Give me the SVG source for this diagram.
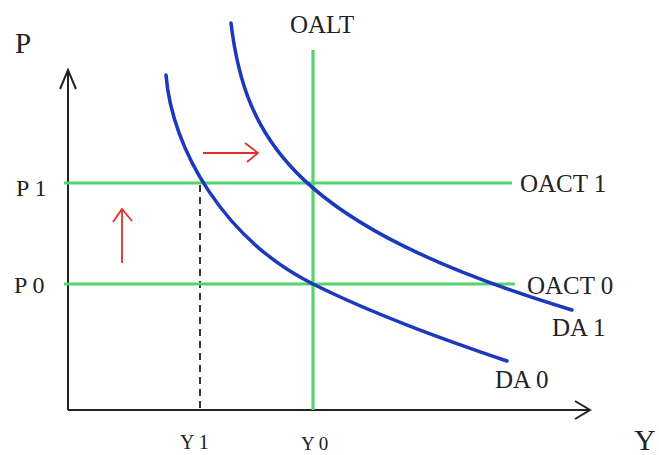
<svg xmlns="http://www.w3.org/2000/svg" width="659" height="455" viewBox="0 0 659 455">
<style>
text{font-family:"Liberation Serif","Times New Roman",serif;fill:#222}
.ax{stroke:#222;stroke-width:2;fill:none}
.g{stroke:#55d46e;stroke-width:3.2;fill:none}
.b{stroke:#1c38bd;stroke-width:3.5;fill:none;stroke-linecap:round}
.r{stroke:#e5302a;stroke-width:1.8;fill:none}
</style>
<rect width="659" height="455" fill="#fff"/>
<g id="axes">
<path class="ax" d="M68 410 V70 M60 89 L68 70 L76 89"/>
<path class="ax" d="M68 410 H590 M575 401 L590 410 L575 419"/>
<path d="M200 185 V410" stroke="#222" stroke-width="1.8" stroke-dasharray="7 5"/>
</g>
<g id="oact1"><line class="g" x1="64" y1="183" x2="512" y2="183"/><text x="520" y="192" font-size="25">OACT 1</text></g>
<g id="oact0"><line class="g" x1="64" y1="284" x2="515" y2="284"/><text x="527" y="294" font-size="25">OACT 0</text></g>
<g id="oalt"><line class="g" x1="313" y1="50" x2="313" y2="410"/><text x="290" y="33" font-size="25">OALT</text></g>
<g id="da0"><path class="b" d="M166 75 C172 150 225 240 313 284 C380 317.5 460 345 507 361"/><text x="495" y="388" font-size="25">DA 0</text></g>
<g id="da1"><path class="b" d="M231 23 C245 140 295 226 572 310"/><text x="552" y="336" font-size="25">DA 1</text></g>
<g id="labels">
<text x="15" y="53" font-size="29">P</text>
<text x="16" y="196" font-size="24">P 1</text>
<text x="14" y="293" font-size="24">P 0</text>
<text x="180" y="449" font-size="20">Y 1</text>
<text x="301" y="450" font-size="19">Y 0</text>
<text x="634" y="450" font-size="30">Y</text>
</g>
<g id="connectors">
<path class="r" d="M203 153 H258 M245 143 L258 153 L247 162"/>
<path class="r" d="M122 263 V209 M113 222 L122 209 L132 221"/>
</g>
</svg>
